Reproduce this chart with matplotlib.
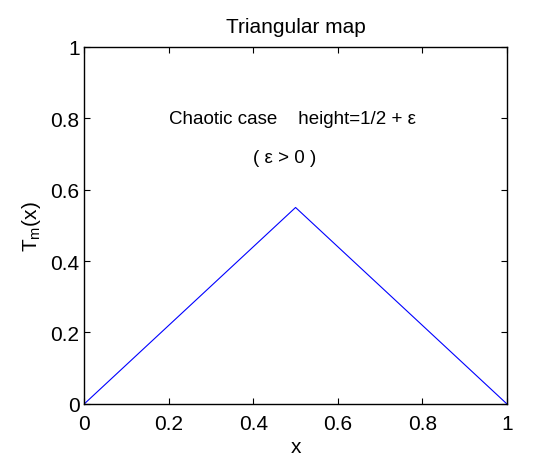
import matplotlib
matplotlib.use('Agg')
import matplotlib.pyplot as plt

# triangular map T_m(x) with peak height 1/2 + eps
x_pts = [0.0, 0.5, 1.0]
t_pts = [0.0, 0.55, 0.0]
ticks = [0, 0.2, 0.4, 0.6, 0.8, 1]
tick_labels = ['0', '0.2', '0.4', '0.6', '0.8', '1']

plt.rcParams['font.family'] = ['Liberation Sans', 'DejaVu Sans']
plt.rcParams['mathtext.fontset'] = 'custom'
plt.rcParams['mathtext.rm'] = 'Liberation Sans'

fig = plt.figure(figsize=(5.34, 4.60), dpi=100)
ax = fig.add_axes([0.158, 0.12, 0.791, 0.776])

ax.plot(x_pts, t_pts, color='blue', linewidth=0.8)

ax.set_xlim(0, 1)
ax.set_ylim(0, 1)
ax.set_xticks(ticks)
ax.set_xticklabels(tick_labels)
ax.set_yticks(ticks)
ax.set_yticklabels(tick_labels)
ax.tick_params(direction='in', top=True, right=True, length=4, width=0.8,
               labelsize=15)
ax.tick_params(axis='x', pad=7)
ax.tick_params(axis='y', pad=3.5)
for sp in ax.spines.values():
    sp.set_linewidth(1.0)

ax.set_title('Triangular map', fontsize=15, pad=11)
ax.set_xlabel('x', fontsize=15, labelpad=3)
ax.set_ylabel(r'$\mathregular{T_m(x)}$', fontsize=15, labelpad=5)

ax.text(0.2, 0.8, 'Chaotic case    height=1/2 + ε', fontsize=13.5,
        va='center', ha='left')
ax.text(0.4, 0.69, '( ε > 0 )', fontsize=13.5, va='center', ha='left')

fig.savefig('out.png', dpi=100)
